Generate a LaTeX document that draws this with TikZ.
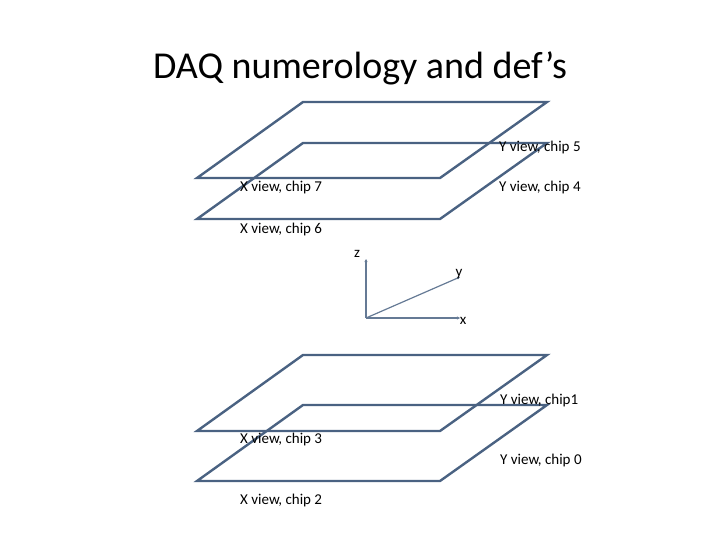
\documentclass[tikz,border=0pt]{standalone}
\usepackage{fontspec}
\setmainfont{Carlito}
\usetikzlibrary{arrows.meta}
\definecolor{pl}{HTML}{4A6282}
\begin{document}
\begin{tikzpicture}[x=1pt,y=-1pt,
  plane/.style={draw=pl,line width=2.4pt,line join=miter},
  ax/.style={draw=pl!85,line width=1.6pt,-{Stealth[length=3pt,width=3pt]}},
  lab/.style={font=\fontsize{15}{18}\selectfont,anchor=west,inner sep=0pt}]
\useasboundingbox (0,0) rectangle (720,540);
\node[font=\fontsize{38}{44}\selectfont] (title) at (360,68) {DAQ numerology and def’s};
\foreach \n/\y in {a/102,b/143,c/355,d/405}{
  \draw[plane] (303,\y) coordinate (\n1) -- (547,\y) coordinate (\n2) -- (440,\y+76) coordinate (\n3) -- (197,\y+76) coordinate (\n4) -- cycle;
}
\node[lab] (l5) at (499,148) {Y view, chip 5};
\node[lab] (l7) at (240,188) {X view, chip 7};
\node[lab] (l4) at (499,188) {Y view, chip 4};
\node[lab] (l6) at (240,230) {X view, chip 6};
\node[lab] (l1) at (500,400) {Y view, chip1};
\node[lab] (l3) at (240,439) {X view, chip 3};
\node[lab] (l0) at (500,460) {Y view, chip 0};
\node[lab] (l2) at (240,500) {X view, chip 2};
\coordinate (o) at (366,318);
\coordinate (zt) at (366,259);
\coordinate (xt) at (460,318);
\coordinate (yt) at (460,277);
\draw[ax] (o) -- (zt);
\draw[ax] (o) -- (xt);
\draw[ax,line width=1.2pt] (o) -- (yt);
\node[lab,anchor=center] (zl) at (357,254) {z};
\node[lab,anchor=center] (yl) at (459,274) {y};
\node[lab,anchor=center] (xl) at (463,321) {x};
\end{tikzpicture}
\end{document}
